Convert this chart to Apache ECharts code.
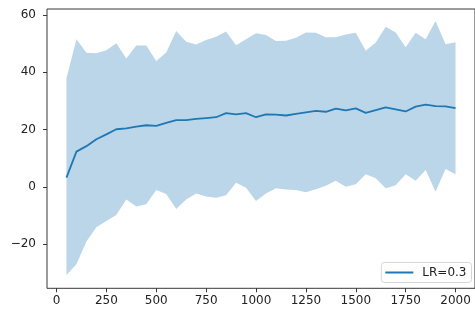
<!DOCTYPE html>
<html>
<head>
    <meta charset="utf-8">
    <title>LR band</title>
    <script src="https://cdn.jsdelivr.net/npm/echarts@6/dist/echarts.min.js"></script>
    <style>
        html, body { margin: 0; padding: 0; background: #fff; }
    </style>
</head>
<body>
<div id="main" style="width: 475px;height:309px;"></div>
<script>
    // x positions (steps)
    var xs = [50, 100, 150, 200, 250, 300, 350, 400, 450, 500,
              550, 600, 650, 700, 750, 800, 850, 900, 950, 1000,
              1050, 1100, 1150, 1200, 1250, 1300, 1350, 1400, 1450, 1500,
              1550, 1600, 1650, 1700, 1750, 1800, 1850, 1900, 1950, 2000];
    // mean curve
    var meanVals = [3.2, 12.3, 14.2, 16.6, 18.3, 20.1, 20.4, 21.0, 21.5, 21.3,
                    22.3, 23.3, 23.3, 23.7, 24.0, 24.3, 25.7, 25.3, 25.7, 24.3,
                    25.3, 25.2, 24.9, 25.5, 26.0, 26.5, 26.2, 27.3, 26.7, 27.4,
                    25.8, 26.8, 27.7, 27.0, 26.3, 28.0, 28.7, 28.2, 28.1, 27.5];
    // upper edge of band
    var upperVals = [37.9, 51.5, 46.8, 46.6, 47.7, 50.1, 44.8, 49.3, 49.3, 43.9,
                     46.9, 54.4, 50.6, 49.7, 51.2, 52.4, 54.2, 49.4, 51.5, 53.6,
                     53.0, 50.9, 51.0, 52.0, 53.9, 53.8, 52.2, 52.2, 53.2, 53.8,
                     47.5, 50.4, 55.9, 53.9, 48.7, 53.8, 51.5, 57.9, 49.8, 50.5];
    // lower edge of band
    var lowerVals = [-30.8, -27.0, -19.1, -14.1, -11.9, -9.8, -4.4, -6.9, -6.1, -1.1,
                     -2.5, -7.7, -4.4, -2.3, -3.4, -3.8, -2.9, 1.4, -0.3, -4.9,
                     -2.3, -0.5, -0.9, -1.1, -1.9, -0.8, 0.4, 2.1, 0.0, 0.9,
                     4.4, 3.0, -0.5, 0.6, 4.4, 2.1, 5.9, -1.7, 6.2, 4.4];
    var xTicks = [0, 250, 500, 750, 1000, 1250, 1500, 1750, 2000];
    var yTicks = [-20, 0, 20, 40, 60];
    var seriesName = 'LR=0.3';

    var bandData = [], meanData = [];
    for (var i = 0; i < xs.length; i++) {
        bandData.push([xs[i], lowerVals[i], upperVals[i]]);
        meanData.push([xs[i], meanVals[i]]);
    }

    var font = 'DejaVu Sans';
    var fontSize = 12;
    function fmt(v) { return String(v).replace('-', '\u2212'); }

    // whole band as one polygon, drawn once through the axes
    function renderBand(params, api) {
        if (params.dataIndex !== 0) return;
        var pts = [];
        for (var k = 0; k < bandData.length; k++) {
            pts.push(api.coord([bandData[k][0], bandData[k][2]]));
        }
        for (var k = bandData.length - 1; k >= 0; k--) {
            pts.push(api.coord([bandData[k][0], bandData[k][1]]));
        }
        return {
            type: 'polygon',
            shape: { points: pts },
            style: { fill: 'rgba(31,119,180,0.3)' }
        };
    }

    var myChart = echarts.init(document.getElementById('main'));
    myChart.setOption({
        animation: false,
        grid: {
            left: 47, top: 9, width: 431.6, height: 279.3,
            show: true, borderColor: '#222', borderWidth: 0.9, backgroundColor: 'transparent'
        },
        legend: {
            data: [seriesName],
            right: 3.5, bottom: 26.5,
            orient: 'vertical',
            icon: 'rect', itemWidth: 28, itemHeight: 2,
            padding: [4, 5, 4, 4],
            borderColor: '#d6d6d6', borderWidth: 1, borderRadius: 3,
            backgroundColor: 'rgba(255,255,255,0.8)',
            textStyle: { fontFamily: font, fontSize: fontSize, color: '#222', padding: [0, 0, 0, 4] }
        },
        xAxis: {
            type: 'value', min: -47.5, max: 2097.5,
            splitLine: { show: false },
            axisLine: { show: false, onZero: false },
            axisTick: { show: true, length: 4, lineStyle: { color: '#222', width: 0.9 }, customValues: xTicks },
            axisLabel: { fontFamily: font, fontSize: fontSize, color: '#222', margin: 6.5, customValues: xTicks, formatter: fmt }
        },
        yAxis: {
            type: 'value', min: -35.4, max: 62.06,
            splitLine: { show: false },
            axisLine: { show: false, onZero: false },
            axisTick: { show: true, length: 4, lineStyle: { color: '#222', width: 0.9 }, customValues: yTicks },
            axisLabel: { fontFamily: font, fontSize: fontSize, color: '#222', margin: 11, customValues: yTicks, formatter: fmt }
        },
        series: [{
            name: 'band',
            type: 'custom',
            renderItem: renderBand,
            data: bandData,
            encode: { x: 0, y: [1, 2] },
            silent: true,
            clip: true
        }, {
            name: seriesName,
            type: 'line',
            data: meanData,
            symbol: 'none',
            color: '#1f77b4',
            lineStyle: { color: '#1f77b4', width: 1.8 }
        }]
    });
</script>
</body>
</html>
